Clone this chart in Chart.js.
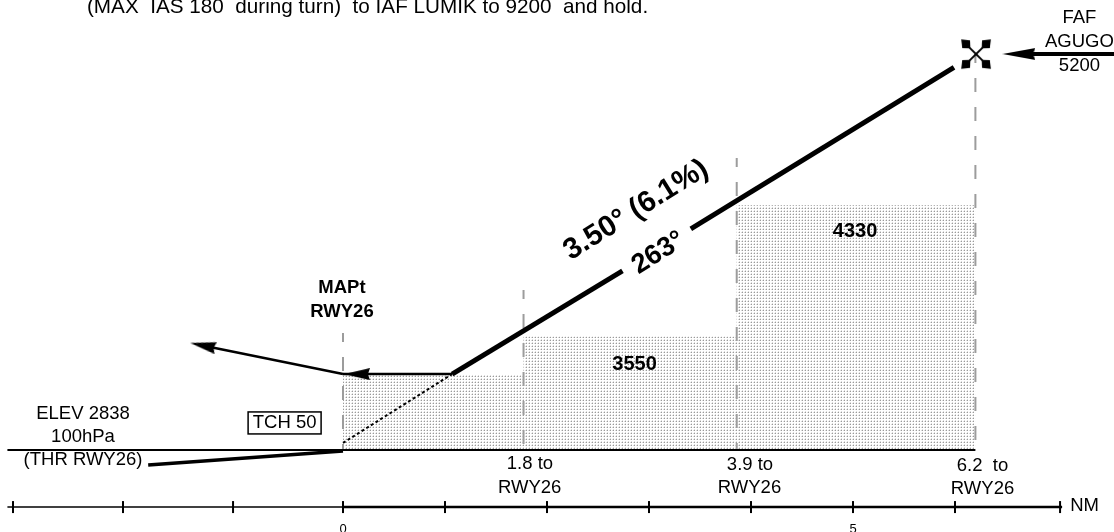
<!DOCTYPE html>
<html><head><meta charset="utf-8">
<style>html,body{margin:0;padding:0;background:#fff}canvas{display:block}</style>
<script src="https://cdn.jsdelivr.net/npm/chart.js@4"></script>
</head><body><canvas id="c" width="1114" height="532"></canvas>
<script>
// Values: x in NM from the threshold, y in feet.
const groundFt = 2838;
const axisFt = 2490;
const tickNm = [-3.235, -2.157, -1.078, 0, 1, 2, 3, 4, 5, 6, 7.03];
const axisLeftNm = [-3.29, 0];
const axisRightNm = [0, 7.05];
const axisHeights = [axisFt, axisFt];
const stepNm = [0, 1.77, 1.77, 3.86, 3.86, 6.2];
const stepFt = [3301, 3301, 3530, 3530, 4330, 4330];
const dashNm = [0, 1.77, 3.86, 6.2];
const dashTopFt = [3551, 3813, 4618, 5252];
const groundNm = [-3.29, 0, 6.2];
const groundHeights = [2838, 2838, 2838];
const thrNm = [-1.91, 0];
const thrFt = [2746, 2832];
const descentDotNm = [0, 1.07];
const descentDotFt = [2881, 3301];
const descentANm = [1.07, 2.74];
const descentAFt = [3301, 3930];
const descentBNm = [3.41, 5.99];
const descentBFt = [4186, 5171];
const levelNm = [0, 1.07];
const levelFt = [3301, 3301];
const missedNm = [-1.304, 0];
const missedFt = [3466, 3301];
const fafInNm = [6.75, 7.6];
const fafInFt = [5253, 5253];
const fafNm = [6.206];
const fafFt = [5252];
const arrowNm = [0.137, -1.373, 6.627];
const arrowFt = [3301, 3475, 5253];
const arrowAngles = [0, 11.5, 0];

function zip(xs, ys) { return xs.map((x, i) => ({ x, y: ys[i] })); }

function stipple() {
  const c = document.createElement('canvas'); c.width = 3; c.height = 3;
  const g = c.getContext('2d');
  g.fillStyle = '#fff'; g.fillRect(0, 0, 3, 3);
  g.fillStyle = '#9a9a9a'; g.fillRect(1, 1, 1, 1);
  g.fillStyle = '#dcdcdc'; g.fillRect(0, 1, 1, 1); g.fillRect(1, 0, 1, 1);
  return c.getContext('2d').createPattern(c, 'repeat');
}
function arrowHead(len, half) {
  const c = document.createElement('canvas'); c.width = len; c.height = half * 2;
  const g = c.getContext('2d');
  g.fillStyle = '#000'; g.beginPath();
  g.moveTo(0, half); g.lineTo(len, 0); g.lineTo(len * 0.92, half); g.lineTo(len, half * 2); g.closePath(); g.fill();
  return c;
}
function fafMark() {
  const c = document.createElement('canvas'); c.width = 36; c.height = 36;
  const g = c.getContext('2d');
  g.translate(18, 18);
  for (const a of [45, 135, 225, 315]) {
    g.save(); g.rotate(a * Math.PI / 180);
    g.strokeStyle = '#000'; g.lineWidth = 1.8;
    g.beginPath(); g.moveTo(0, 0); g.lineTo(12, 0); g.stroke();
    g.fillStyle = '#000'; g.beginPath();
    g.moveTo(8, 0); g.lineTo(14, -5.5); g.lineTo(21, 0); g.lineTo(14, 5.5); g.closePath(); g.fill();
    g.restore();
  }
  return c;
}

const BODY = '"Liberation Sans", Arial, sans-serif';
const notes = [
  { t: '(MAX  IAS 180  during turn)  to IAF LUMIK to 9200  and hold.', x: -2.51, y: 5539, s: 20.7, a: 'left' },
  { t: 'ELEV 2838', x: -2.549, y: 3058, s: 18.5 },
  { t: '100hPa', x: -2.549, y: 2917, s: 18.5 },
  { t: '(THR RWY26)', x: -2.549, y: 2777, s: 18.5 },
  { t: 'TCH 50', x: -0.5725, y: 3003, s: 18.5, box: [73, 22] },
  { t: 'MAPt', x: -0.01, y: 3826, s: 18.5, b: 1 },
  { t: 'RWY26', x: -0.01, y: 3679, s: 18.5, b: 1 },
  { t: '3550', x: 2.858, y: 3362, s: 20, b: 1 },
  { t: '4330', x: 5.02, y: 4173, s: 20, b: 1 },
  { t: '1.8 to', x: 1.833, y: 2753, s: 18.5 },
  { t: 'RWY26', x: 1.83, y: 2606, s: 18.5 },
  { t: '3.9 to', x: 3.99, y: 2747, s: 18.5 },
  { t: 'RWY26', x: 3.985, y: 2606, s: 18.5 },
  { t: '6.2  to', x: 6.27, y: 2741, s: 18.5 },
  { t: 'RWY26', x: 6.27, y: 2600, s: 18.5 },
  { t: 'NM', x: 7.27, y: 2497, s: 18.5 },
  { t: 'FAF', x: 7.22, y: 5472, s: 18.5 },
  { t: 'AGUGO', x: 7.22, y: 5326, s: 18.5 },
  { t: '5200', x: 7.22, y: 5179, s: 18.5 },
  { t: '3.50° (6.1%)', x: 2.873, y: 4301, s: 29.5, b: 1, r: -32 },
  { t: '263°', x: 3.093, y: 4039, s: 27.5, b: 1, r: -32 }
];
const notesPlugin = {
  id: 'notes',
  afterDatasetsDraw(chart) {
    const g = chart.ctx, sx = chart.scales.x, sy = chart.scales.y;
    g.save(); g.fillStyle = '#000'; g.textBaseline = 'middle';
    for (const n of notes) {
      const px = sx.getPixelForValue(n.x), py = sy.getPixelForValue(n.y);
      g.save(); g.translate(px, py);
      if (n.r) g.rotate(n.r * Math.PI / 180);
      g.font = (n.b ? 'bold ' : '') + n.s + 'px ' + BODY;
      g.textAlign = n.a || 'center';
      g.fillText(n.t, 0, 0);
      if (n.box) {
        g.strokeStyle = '#000'; g.lineWidth = 1.5;
        g.strokeRect(-n.box[0] / 2, -n.box[1] / 2, n.box[0], n.box[1]);
      }
      g.restore();
    }
    g.restore();
  }
};

function line(data, width, order, extra) {
  return Object.assign({ data, borderColor: '#000', borderWidth: width, pointRadius: 0, order, clip: false, tension: 0 }, extra || {});
}
const dashSets = dashNm.map((x, i) => line(zip([x, x], [dashTopFt[i], groundFt]), 2, 5,
  { borderColor: '#9c9c9c', borderDash: [14, 15], borderDashOffset: 5 }));

new Chart(document.getElementById('c'), {
  type: 'line',
  data: {
    datasets: [
      line(zip(stepNm, stepFt), 0, 10, { fill: { value: groundFt }, backgroundColor: stipple() }),
      ...dashSets,
      line(zip(groundNm, groundHeights), 2, 4),
      line(zip(thrNm, thrFt), 3.5, 4),
      line(zip(descentDotNm, descentDotFt), 2, 4, { borderDash: [3, 2.5] }),
      line(zip(descentANm, descentAFt), 5, 3),
      line(zip(descentBNm, descentBFt), 5, 3),
      line(zip(levelNm, levelFt), 2.6, 3),
      line(zip(missedNm, missedFt), 2.6, 3),
      line(zip(fafInNm, fafInFt), 4, 3),
      line(zip(axisLeftNm, axisHeights), 1.5, 3),
      line(zip(axisRightNm, axisHeights), 2.5, 3),
      line(zip(tickNm, tickNm.map(() => axisFt)), 0, 2, {
        showLine: false, pointStyle: 'line', pointRotation: 90, pointRadius: 6,
        pointBorderColor: '#000', pointBorderWidth: 2 }),
      line(zip(arrowNm, arrowFt), 0, 1, {
        showLine: false, pointRadius: 5,
        pointStyle: [arrowHead(26, 6), arrowHead(26, 6), arrowHead(33, 6)],
        pointRotation: arrowAngles }),
      line(zip(fafNm, fafFt), 0, 1, { showLine: false, pointRadius: 5, pointStyle: fafMark() })
    ]
  },
  options: {
    responsive: false, animation: false, devicePixelRatio: 1,
    layout: { padding: 0, autoPadding: false },
    events: [],
    plugins: { legend: { display: false }, tooltip: { enabled: false }, title: { display: false } },
    scales: {
      x: {
        type: 'linear', min: -3.3627, max: 7.5588,
        afterFit(s) { s.height = 27; s.paddingLeft = 0; s.paddingRight = 0; },
        afterBuildTicks(s) { s.ticks = tickNm.map(value => ({ value })); },
        grid: { display: false }, border: { display: false },
        ticks: {
          autoSkip: false, maxRotation: 0, padding: 9, color: '#000',
          font: { family: BODY, size: 13 },
          callback: v => (v === 0 || v === 5) ? String(v) : ''
        }
      },
      y: { type: 'linear', display: false, min: 2502.6, max: 5581.9 }
    }
  },
  plugins: [notesPlugin]
});
</script></body></html>
